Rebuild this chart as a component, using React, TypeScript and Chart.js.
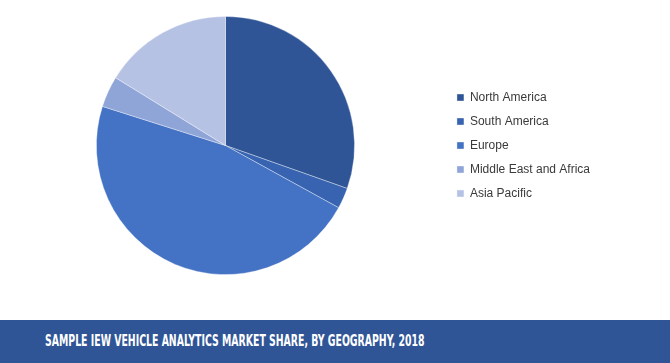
import React, { useEffect, useRef } from "react";
import { Chart, registerables } from "chart.js";

Chart.register(...registerables);

const categories = ["North America", "South America", "Europe", "Middle East and Africa", "Asia Pacific"];
const shares = [30.4, 2.6, 46.9, 3.9, 16.2];
const sliceColors = ["#2F5597", "#3763B0", "#4472C4", "#8FA5D8", "#B6C2E4"];
const titleText = "SAMPLE IEW VEHICLE ANALYTICS MARKET SHARE, BY GEOGRAPHY, 2018";

export default function App() {
  const canvasRef = useRef<HTMLCanvasElement | null>(null);

  useEffect(() => {
    const canvas = canvasRef.current;
    if (!canvas) return;
    const chart = new Chart(canvas, {
      type: "pie",
      data: {
        labels: categories,
        datasets: [
          {
            data: shares,
            backgroundColor: sliceColors,
            borderColor: "rgba(255,255,255,0.45)",
            borderWidth: 0.8,
          },
        ],
      },
      options: {
        responsive: false,
        animation: false,
        devicePixelRatio: 1,
        layout: { padding: { left: 6, right: 70, top: 16, bottom: 45 } },
        plugins: {
          tooltip: { enabled: false },
          legend: {
            position: "right",
            labels: {
              boxWidth: 7,
              boxHeight: 7,
              padding: 12,
              color: "#3a3a3a",
              font: { family: "'Liberation Sans', Arial, sans-serif", size: 12 },
            },
          },
        },
      },
    });
    return () => chart.destroy();
  }, []);

  return (
    <div style={{ position: "fixed", left: 0, top: 0, width: 670, height: 363, background: "#fff", overflow: "hidden" }}>
      <canvas ref={canvasRef} width={670} height={320} style={{ display: "block", width: 670, height: 320 }} />
      <div
        style={{
          position: "absolute",
          left: 0,
          top: 320,
          width: 670,
          height: 43,
          background: "#2F5597",
        }}
      >
        <div
          style={{
            position: "absolute",
            left: 45,
            top: 12,
            color: "#ffffff",
            fontFamily: "'DejaVu Sans Condensed', 'Liberation Sans Narrow', sans-serif",
            fontWeight: "bold",
            fontSize: 16,
            lineHeight: "18px",
            whiteSpace: "nowrap",
            transformOrigin: "left center",
            transform: "scaleX(0.65)",
          }}
        >
          {titleText}
        </div>
      </div>
    </div>
  );
}
